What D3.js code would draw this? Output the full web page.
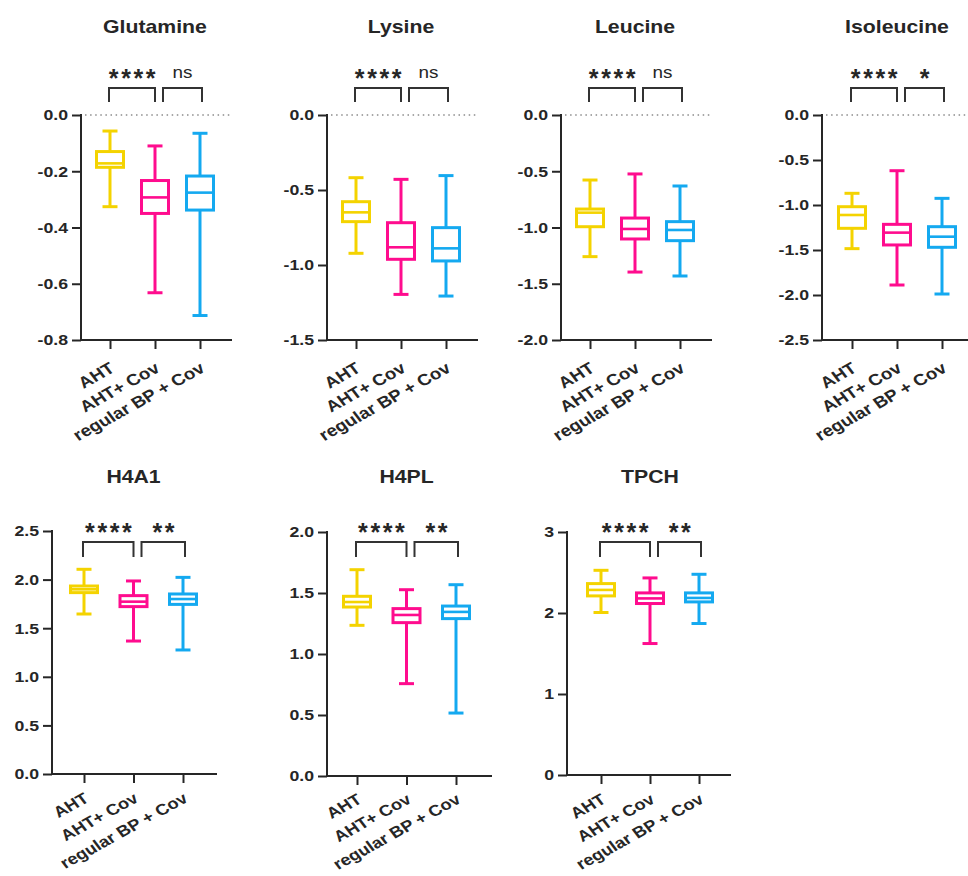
<!DOCTYPE html>
<html><head><meta charset="utf-8">
<script src="https://cdn.jsdelivr.net/npm/d3@7"></script>
<style>
body{margin:0;background:#fff}
svg{display:block}
text{font-family:"Liberation Sans",Arial,sans-serif;fill:#262626}
</style>
</head><body>
<svg id="chart" width="968" height="876"></svg>
<script>
// ---------------- data ----------------
const categories = ["AHT", "AHT+ Cov", "regular BP + Cov"];
const panelNames = ["Glutamine", "Lysine", "Leucine", "Isoleucine", "H4A1", "H4PL", "TPCH"];
const yMin  = [-0.8, -1.5, -2.0, -2.5, 0, 0, 0];
const yMax  = [0, 0, 0, 0, 2.5, 2.0, 3];
const yStep = [0.2, 0.5, 0.5, 0.5, 0.5, 0.5, 1];
// [min, q1, median, q3, max] per panel
const ahtStats = [
  [-0.326, -0.186, -0.172, -0.130, -0.057],
  [-0.922, -0.711, -0.649, -0.578, -0.418],
  [-1.259, -0.993, -0.868, -0.836, -0.578],
  [-1.485, -1.259, -1.111, -1.019, -0.870],
  [1.646, 1.866, 1.900, 1.934, 2.106],
  [1.235, 1.385, 1.426, 1.473, 1.691],
  [2.006, 2.211, 2.285, 2.363, 2.527]
];
const covStats = [
  [-0.632, -0.350, -0.293, -0.233, -0.110],
  [-1.196, -0.962, -0.882, -0.718, -0.429],
  [-1.396, -1.102, -1.013, -0.916, -0.524],
  [-1.889, -1.444, -1.307, -1.215, -0.619],
  [1.368, 1.722, 1.773, 1.835, 1.986],
  [0.757, 1.257, 1.320, 1.372, 1.527],
  [1.623, 2.117, 2.180, 2.248, 2.433]
];
const regStats = [
  [-0.713, -0.338, -0.276, -0.217, -0.065],
  [-1.207, -0.973, -0.889, -0.751, -0.404],
  [-1.431, -1.117, -1.022, -0.948, -0.631],
  [-1.989, -1.470, -1.352, -1.241, -0.926],
  [1.276, 1.745, 1.800, 1.852, 2.023],
  [0.516, 1.290, 1.345, 1.393, 1.568],
  [1.870, 2.137, 2.186, 2.248, 2.478]
];
const sigLeft  = ["****", "****", "****", "****", "****", "****", "****"];
const sigRight = ["ns", "ns", "ns", "*", "**", "**", "**"];

// ---------------- layout ----------------
const colors = ["#F4D300", "#FF0C8E", "#14A9F0"];
const SX = 1.18; // horizontal text stretch of the original
const layout = [
  {x0: 81,  x1: 232, yTop: 115, yBot: 340, tA: 29, tB: 119, titleY: 33,  starY: 73,  brTop: 88,  brBot: 102, lblDy: 31, lblFs: 16},
  {x0: 327, x1: 478, yTop: 115, yBot: 340, tA: 29, tB: 119, titleY: 33,  starY: 73,  brTop: 88,  brBot: 102, lblDy: 31, lblFs: 16},
  {x0: 561, x1: 712, yTop: 115, yBot: 340, tA: 29, tB: 119, titleY: 33,  starY: 73,  brTop: 88,  brBot: 102, lblDy: 31, lblFs: 16},
  {x0: 822, x1: 975, yTop: 115, yBot: 340, tA: 30, tB: 120, titleY: 33,  starY: 73,  brTop: 88,  brBot: 102, lblDy: 31, lblFs: 16},
  {x0: 52,  x1: 217, yTop: 531, yBot: 774, tA: 32, tB: 131, titleY: 483, starY: 527, brTop: 542, brBot: 557, lblDy: 27, lblFs: 15.5},
  {x0: 327, x1: 492, yTop: 532, yBot: 776, tA: 30, tB: 129, titleY: 483, starY: 527, brTop: 542, brBot: 557, lblDy: 26, lblFs: 15.5},
  {x0: 567, x1: 731, yTop: 532, yBot: 775, tA: 34, tB: 132, titleY: 483, starY: 527, brTop: 542, brBot: 557, lblDy: 27, lblFs: 15.5}
];

const svg = d3.select("#chart");

function stretchText(g, x, y, str, size, weight, anchor) {
  return g.append("g").attr("transform", `translate(${x},${y}) scale(${SX},1)`)
    .append("text").attr("text-anchor", anchor || "middle")
    .attr("font-size", size).attr("font-weight", weight || "bold").text(str);
}

panelNames.forEach((name, p) => {
  const L = layout[p];
  const g = svg.append("g");
  const x = d3.scalePoint().domain(categories).range([L.x0 + L.tA, L.x0 + L.tB]);
  const y = d3.scaleLinear().domain([yMin[p], yMax[p]]).range([L.yBot, L.yTop]);
  const n = Math.round((yMax[p] - yMin[p]) / yStep[p]);
  const ticks = d3.range(n + 1).map(i => +(yMin[p] + i * yStep[p]).toFixed(3));
  const fmt = v => { if (Math.abs(v) < 1e-9) v = 0; return yStep[p] >= 1 ? v.toFixed(0) : v.toFixed(1); };

  // dotted zero line
  g.append("line").attr("x1", L.x0 + 4).attr("x2", L.x1).attr("y1", y(0)).attr("y2", y(0))
    .attr("stroke", "#8c8c8c").attr("stroke-width", 1.4).attr("stroke-dasharray", "1.5,3.6");

  // y axis
  const ya = g.append("g").attr("transform", `translate(${L.x0},0)`)
    .call(d3.axisLeft(y).tickValues(ticks).tickFormat(fmt).tickSize(9).tickPadding(4).tickSizeOuter(0));
  ya.select(".domain").remove();
  ya.selectAll(".tick line").attr("stroke", "#262626").attr("stroke-width", 2);
  ya.selectAll(".tick text").attr("x", -13 / SX).attr("transform", `scale(${SX},1)`)
    .attr("font-size", 15).attr("font-weight", "bold").attr("font-family", "Liberation Sans, Arial, sans-serif")
    .attr("fill", "#262626");

  // x axis ticks
  const xa = g.append("g").attr("transform", `translate(0,${L.yBot})`)
    .call(d3.axisBottom(x).tickSize(9).tickFormat("").tickSizeOuter(0));
  xa.select(".domain").remove();
  xa.selectAll(".tick line").attr("stroke", "#262626").attr("stroke-width", 2);

  // axis lines
  g.append("line").attr("x1", L.x0).attr("x2", L.x0).attr("y1", L.yTop - 1).attr("y2", L.yBot + 1)
    .attr("stroke", "#262626").attr("stroke-width", 2);
  g.append("line").attr("x1", L.x0 - 1).attr("x2", L.x1).attr("y1", L.yBot).attr("y2", L.yBot)
    .attr("stroke", "#262626").attr("stroke-width", 2);

  // rotated category labels
  categories.forEach(c => {
    g.append("g").attr("transform", `translate(${x(c) + 6},${L.yBot + L.lblDy}) scale(${SX},1) rotate(-33)`)
      .append("text").attr("text-anchor", "end").attr("font-size", L.lblFs).attr("font-weight", "bold").text(c);
  });

  // boxes
  const stats = [ahtStats[p], covStats[p], regStats[p]];
  stats.forEach((s, i) => {
    const cx = x(categories[i]);
    const col = colors[i];
    const bg = g.append("g").attr("stroke", col).attr("stroke-width", 3).attr("fill", "none");
    bg.append("line").attr("x1", cx).attr("x2", cx).attr("y1", y(s[0])).attr("y2", y(s[4]));
    [s[0], s[4]].forEach(v => bg.append("line").attr("x1", cx - 7.5).attr("x2", cx + 7.5).attr("y1", y(v)).attr("y2", y(v)));
    bg.append("rect").attr("x", cx - 13.5).attr("width", 27).attr("y", y(s[3])).attr("height", y(s[1]) - y(s[3]))
      .attr("fill", "#fff");
    bg.append("line").attr("x1", cx - 13.5).attr("x2", cx + 13.5).attr("y1", y(s[2])).attr("y2", y(s[2]))
      .attr("stroke-width", 2.6);
  });

  // significance brackets
  const xs = categories.map(c => x(c));
  const br = [[xs[0] - 1, xs[1]], [xs[1] + 8, xs[2] + 2]];
  br.forEach(([a, b]) => {
    g.append("path").attr("d", `M${a},${L.brBot}V${L.brTop}H${b}V${L.brBot}`)
      .attr("fill", "none").attr("stroke", "#333").attr("stroke-width", 2);
  });
  [sigLeft[p], sigRight[p]].forEach((s, k) => {
    const cx = (br[k][0] + br[k][1]) / 2;
    if (s === "ns") {
      stretchText(g, cx, L.starY + 5, s, 16, "normal");
    } else {
      g.append("text").attr("x", cx + 1.5).attr("y", L.starY + 13.5).attr("text-anchor", "middle")
        .attr("font-size", 25).attr("font-weight", "bold").attr("letter-spacing", 2.6)
        .attr("fill", "#1a1a1a").text(s);
    }
  });

  // title
  stretchText(g, x(categories[1]), L.titleY, name, 18, "bold");
});
</script>
</body></html>
